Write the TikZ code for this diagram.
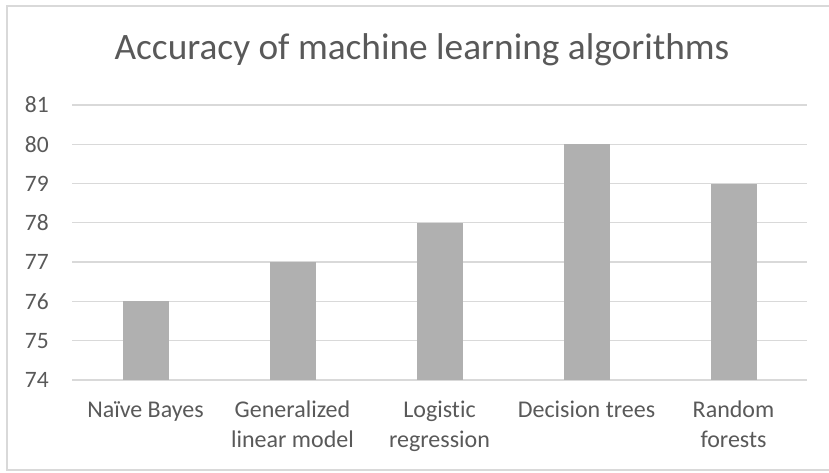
\documentclass[tikz,border=0pt]{standalone}
\usepackage{fontspec}
\setmainfont{Carlito}[Ligatures=NoCommon]
\usetikzlibrary{positioning}
\definecolor{cText}{HTML}{595959}
\definecolor{cGrid}{HTML}{D9D9D9}
\definecolor{cBar}{HTML}{B0B0B0}
\tikzset{
	frame/.style    ={draw=cGrid, line width=1.2pt},
	gridline/.style ={draw=cGrid, line width=1.3pt},
	bar/.style      ={fill=cBar, draw=none},
	% text styles
	ticklabel/.style={anchor=east, inner sep=0pt, text=cText, font=\fontsize{23.5}{28}\selectfont},
	catlabel/.style ={anchor=north, inner sep=0pt, align=center, text=cText, font=\fontsize{24}{30}\selectfont},
	charttitle/.style={inner sep=0pt, text=cText, font=\fontsize{37.3}{44}\selectfont},
}

\begin{document}
\begin{tikzpicture}[x=1pt, y=-1pt]
	\useasboundingbox (0,0) rectangle (829,472);
	% chart area
	\draw[frame] (7,6) rectangle (840,470);
	\node[charttitle] (title) at (422,50) {Accuracy of machine learning algorithms};
	% value axis
	\foreach \v in {74,...,81}{
		\draw[gridline] (72,{380-(\v-74)*39.29}) -- (807,{380-(\v-74)*39.29});
		\node[ticklabel] (t\v) at (49,{380-(\v-74)*39.29}) {\v};
	}
	% bars
	\foreach \v [count=\i] in {76,77,78,80,79}{
		\fill[bar] ({72+(\i-0.5)*147-23},380) rectangle ({72+(\i-0.5)*147+23},{380-(\v-74)*39.29});
	}
	% categories
	\node[catlabel] (nb)  at (145.5,401) {Naïve Bayes};
	\node[catlabel] (glm) at (292.5,401) {Generalized\\linear model};
	\node[catlabel] (lr)  at (439.5,401) {Logistic\\regression};
	\node[catlabel] (dt)  at (586.5,401) {Decision trees};
	\node[catlabel] (rf)  at (733.5,401) {Random\\forests};
\end{tikzpicture}
\end{document}
